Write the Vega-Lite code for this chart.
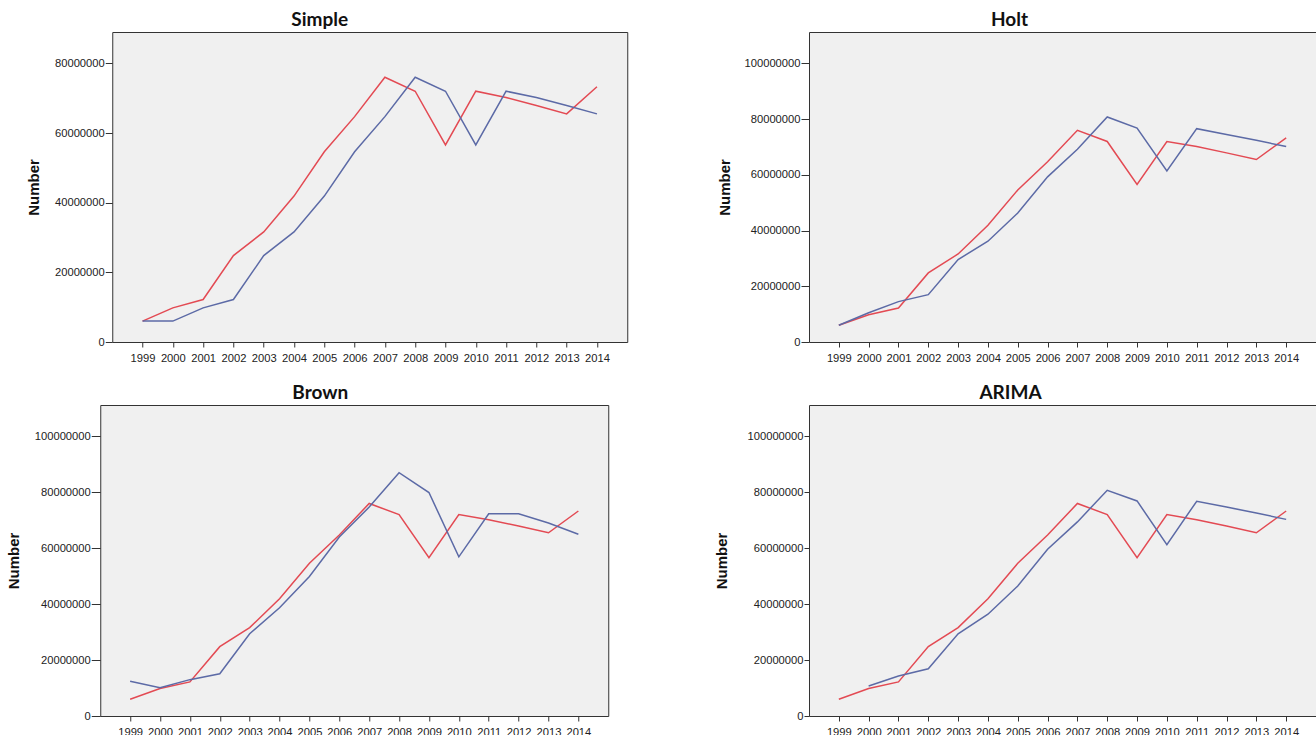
{
  "$schema": "https://vega.github.io/schema/vega-lite/v6.json",
  "background": "white",
  "padding": {"left": 6, "top": 10, "right": 0, "bottom": 0},
  "config": {
    "view": {"fill": "#f0f0f0", "stroke": "#333333", "strokeWidth": 1},
    "axis": {"labelFont": "Liberation Sans", "labelFontSize": 11.2, "labelColor": "#222222", "tickColor": "#333333", "titleFont": "Liberation Sans", "titleFontSize": 15, "titleFontWeight": "bold", "titleColor": "#111111", "grid": false, "domain": false, "labelOverlap": false},
    "title": {"font": "Lato", "fontSize": 19, "fontWeight": "bold", "color": "#111111"}
  },
  "datasets": {
    "observed": [
      {"year": 1999, "value": 6000000}, {"year": 2000, "value": 9800000}, {"year": 2001, "value": 12200000},
      {"year": 2002, "value": 24800000}, {"year": 2003, "value": 31600000}, {"year": 2004, "value": 41900000},
      {"year": 2005, "value": 54600000}, {"year": 2006, "value": 64700000}, {"year": 2007, "value": 76000000},
      {"year": 2008, "value": 72000000}, {"year": 2009, "value": 56600000}, {"year": 2010, "value": 72000000},
      {"year": 2011, "value": 70200000}, {"year": 2012, "value": 67900000}, {"year": 2013, "value": 65500000},
      {"year": 2014, "value": 73300000}
    ],
    "fit": [
      {"model": "Simple", "year": 1999, "value": 6000000}, {"model": "Simple", "year": 2000, "value": 6000000},
      {"model": "Simple", "year": 2001, "value": 9800000}, {"model": "Simple", "year": 2002, "value": 12200000},
      {"model": "Simple", "year": 2003, "value": 24800000}, {"model": "Simple", "year": 2004, "value": 31600000},
      {"model": "Simple", "year": 2005, "value": 41900000}, {"model": "Simple", "year": 2006, "value": 54600000},
      {"model": "Simple", "year": 2007, "value": 64700000}, {"model": "Simple", "year": 2008, "value": 76000000},
      {"model": "Simple", "year": 2009, "value": 72000000}, {"model": "Simple", "year": 2010, "value": 56600000},
      {"model": "Simple", "year": 2011, "value": 72000000}, {"model": "Simple", "year": 2012, "value": 70200000},
      {"model": "Simple", "year": 2013, "value": 67900000}, {"model": "Simple", "year": 2014, "value": 65500000},
      {"model": "Holt", "year": 1999, "value": 6000000}, {"model": "Holt", "year": 2000, "value": 10500000},
      {"model": "Holt", "year": 2001, "value": 14500000}, {"model": "Holt", "year": 2002, "value": 17000000},
      {"model": "Holt", "year": 2003, "value": 29600000}, {"model": "Holt", "year": 2004, "value": 36200000},
      {"model": "Holt", "year": 2005, "value": 46300000}, {"model": "Holt", "year": 2006, "value": 59300000},
      {"model": "Holt", "year": 2007, "value": 69200000}, {"model": "Holt", "year": 2008, "value": 80800000},
      {"model": "Holt", "year": 2009, "value": 76800000}, {"model": "Holt", "year": 2010, "value": 61400000},
      {"model": "Holt", "year": 2011, "value": 76600000}, {"model": "Holt", "year": 2012, "value": 74500000},
      {"model": "Holt", "year": 2013, "value": 72400000}, {"model": "Holt", "year": 2014, "value": 70200000},
      {"model": "Brown", "year": 1999, "value": 12400000}, {"model": "Brown", "year": 2000, "value": 10100000},
      {"model": "Brown", "year": 2001, "value": 13000000}, {"model": "Brown", "year": 2002, "value": 15100000},
      {"model": "Brown", "year": 2003, "value": 29400000}, {"model": "Brown", "year": 2004, "value": 38700000},
      {"model": "Brown", "year": 2005, "value": 49900000}, {"model": "Brown", "year": 2006, "value": 64000000},
      {"model": "Brown", "year": 2007, "value": 74700000}, {"model": "Brown", "year": 2008, "value": 87000000},
      {"model": "Brown", "year": 2009, "value": 79900000}, {"model": "Brown", "year": 2010, "value": 56900000},
      {"model": "Brown", "year": 2011, "value": 72300000}, {"model": "Brown", "year": 2012, "value": 72300000},
      {"model": "Brown", "year": 2013, "value": 69000000}, {"model": "Brown", "year": 2014, "value": 65000000},
      {"model": "ARIMA", "year": 2000, "value": 10700000}, {"model": "ARIMA", "year": 2001, "value": 14300000},
      {"model": "ARIMA", "year": 2002, "value": 16900000}, {"model": "ARIMA", "year": 2003, "value": 29400000},
      {"model": "ARIMA", "year": 2004, "value": 36400000}, {"model": "ARIMA", "year": 2005, "value": 46500000},
      {"model": "ARIMA", "year": 2006, "value": 59600000}, {"model": "ARIMA", "year": 2007, "value": 69400000},
      {"model": "ARIMA", "year": 2008, "value": 80700000}, {"model": "ARIMA", "year": 2009, "value": 76900000},
      {"model": "ARIMA", "year": 2010, "value": 61300000}, {"model": "ARIMA", "year": 2011, "value": 76800000},
      {"model": "ARIMA", "year": 2012, "value": 74700000}, {"model": "ARIMA", "year": 2013, "value": 72600000},
      {"model": "ARIMA", "year": 2014, "value": 70300000}
    ]
  },
  "spacing": 74,
  "hconcat": [
    {
      "spacing": 19,
      "center": true,
      "vconcat": [
        {
          "width": 515, "height": 310,
          "title": {"text": "Simple", "frame": "group", "dx": -50, "offset": -7, "baseline": "middle"},
          "encoding": {
            "x": {"field": "year", "type": "ordinal", "scale": {"type": "point", "padding": 1.42},
              "axis": {"title": null, "labelAngle": 0, "tickSize": 5, "labelPadding": 5}},
            "y": {"field": "value", "type": "quantitative", "scale": {"domain": [0, 89000000], "nice": false},
              "axis": {"title": "Number", "values": [0, 20000000, 40000000, 60000000, 80000000], "format": "d", "tickSize": 7, "labelPadding": 1, "titlePadding": 12.5}}
          },
          "layer": [
            {"data": {"name": "observed"}, "mark": {"type": "line", "color": "#e34a53", "strokeWidth": 1.5}},
            {"data": {"name": "fit"}, "transform": [{"filter": "datum.model === 'Simple'"}], "mark": {"type": "line", "color": "#5c6aa6", "strokeWidth": 1.5}}
          ]
        },
        {
          "width": 508, "height": 311,
          "title": {"text": "Brown", "frame": "group", "dx": -34, "offset": -7, "baseline": "middle"},
          "encoding": {
            "x": {"field": "year", "type": "ordinal", "scale": {"type": "point", "padding": 1.42},
              "axis": {"title": ".", "titleX": 539, "titleY": 1, "titleAlign": "right", "titleBaseline": "top", "titleFontSize": 2, "titleOpacity": 0, "labelAngle": 0, "tickSize": 5, "labelPadding": 5}},
            "y": {"field": "value", "type": "quantitative", "scale": {"domain": [0, 111200000], "nice": false},
              "axis": {"title": "Number", "values": [0, 20000000, 40000000, 60000000, 80000000, 100000000], "format": "d", "tickSize": 9, "labelPadding": 1, "titlePadding": 12.3}}
          },
          "layer": [
            {"data": {"name": "observed"}, "mark": {"type": "line", "color": "#e34a53", "strokeWidth": 1.5}},
            {"data": {"name": "fit"}, "transform": [{"filter": "datum.model === 'Brown'"}], "mark": {"type": "line", "color": "#5c6aa6", "strokeWidth": 1.5}}
          ]
        }
      ]
    },
    {
      "spacing": 19,
      "vconcat": [
        {
          "width": 507, "height": 310,
          "title": {"text": "Holt", "frame": "group", "dx": -53, "offset": -7, "baseline": "middle"},
          "encoding": {
            "x": {"field": "year", "type": "ordinal", "scale": {"type": "point", "padding": 1.42},
              "axis": {"title": null, "labelAngle": 0, "tickSize": 5, "labelPadding": 5}},
            "y": {"field": "value", "type": "quantitative", "scale": {"domain": [0, 111300000], "nice": false},
              "axis": {"title": "Number", "values": [0, 20000000, 40000000, 60000000, 80000000, 100000000], "format": "d", "tickSize": 8, "labelPadding": 1, "titlePadding": 12}}
          },
          "layer": [
            {"data": {"name": "observed"}, "mark": {"type": "line", "color": "#e34a53", "strokeWidth": 1.5}},
            {"data": {"name": "fit"}, "transform": [{"filter": "datum.model === 'Holt'"}], "mark": {"type": "line", "color": "#5c6aa6", "strokeWidth": 1.5}}
          ]
        },
        {
          "width": 507, "height": 311,
          "title": {"text": "ARIMA", "frame": "group", "dx": -52, "offset": -7, "baseline": "middle"},
          "encoding": {
            "x": {"field": "year", "type": "ordinal", "scale": {"type": "point", "padding": 1.42},
              "axis": {"title": null, "labelAngle": 0, "tickSize": 5, "labelPadding": 5}},
            "y": {"field": "value", "type": "quantitative", "scale": {"domain": [0, 111200000], "nice": false},
              "axis": {"title": "Number", "values": [0, 20000000, 40000000, 60000000, 80000000, 100000000], "format": "d", "tickSize": 5, "labelPadding": 1, "titlePadding": 17.5}}
          },
          "layer": [
            {"data": {"name": "observed"}, "mark": {"type": "line", "color": "#e34a53", "strokeWidth": 1.5}},
            {"data": {"name": "fit"}, "transform": [{"filter": "datum.model === 'ARIMA'"}], "mark": {"type": "line", "color": "#5c6aa6", "strokeWidth": 1.5}}
          ]
        }
      ]
    }
  ]
}
